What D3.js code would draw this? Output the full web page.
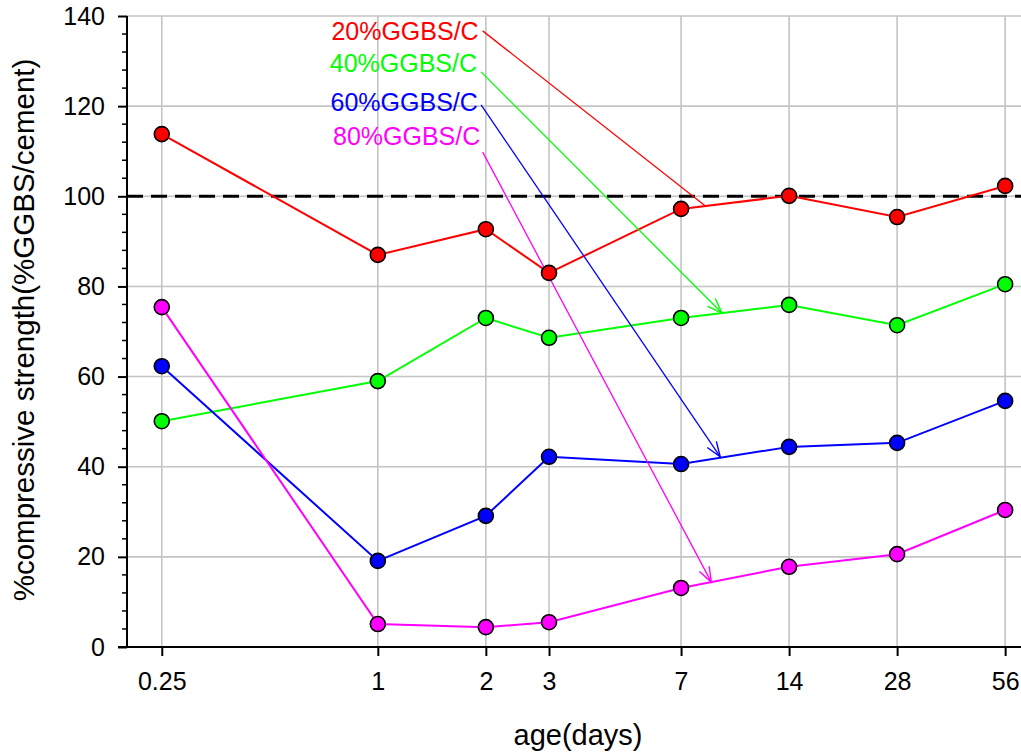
<!DOCTYPE html>
<html>
<head>
<meta charset="utf-8">
<script src="https://cdn.jsdelivr.net/npm/d3@7"></script>
<style>
  body { margin: 0; background: #fff; }
  svg { display: block; font-family: "Liberation Sans", Arial, sans-serif; }
</style>
</head>
<body>
<script>
// ages (days) and percentages
var ages = [0.25, 1, 2, 3, 7, 14, 28, 56];
var ggbs20 = [113.8, 87.0, 92.7, 83.0, 97.2, 100.1, 95.4, 102.3];
var ggbs40 = [50.1, 59.0, 73.0, 68.6, 73.0, 75.9, 71.4, 80.5];
var ggbs60 = [62.3, 19.1, 29.1, 42.2, 40.6, 44.4, 45.3, 54.6];
var ggbs80 = [75.4, 5.1, 4.4, 5.5, 13.1, 17.8, 20.6, 30.4];
var seriesNames = ["20%GGBS/C", "40%GGBS/C", "60%GGBS/C", "80%GGBS/C"];
var seriesColors = ["#ff0000", "#00ff00", "#0000ff", "#ff00ff"];
var yTicks = [0, 20, 40, 60, 80, 100, 120, 140];
var xTickLabels = ["0.25", "1", "2", "3", "7", "14", "28", "56"];

// annotation text anchor + arrow (in data units: days, %)
var labelPos = [[1.91, 134.7], [1.89, 127.6], [1.90, 118.9], [1.93, 111.4]];
var arrowFrom = [[1.96, 136.7], [1.94, 127.6], [1.94, 120.3], [1.96, 109.8]];
var arrowTo = [[8.2, 97.8], [9.1, 74.1], [9.0, 42.2], [8.5, 14.4]];
var hasHead = [false, true, true, true];

var W = 1021, H = 752;
var svg = d3.select("body").append("svg").attr("width", W).attr("height", H);

var x = d3.scaleLog().base(2).domain([0.2, 62]).range([127, 1021]);
var y = d3.scaleLinear().domain([0, 140]).range([647, 16]);

// grid
var grid = svg.append("g").attr("stroke", "#c4c4c4").attr("stroke-width", 1.6);
grid.selectAll("line.v").data(ages).enter().append("line")
    .attr("x1", function (d) { return x(d); }).attr("x2", function (d) { return x(d); })
    .attr("y1", y(0)).attr("y2", y(140));
grid.selectAll("line.h").data(yTicks.slice(1)).enter().append("line")
    .attr("x1", x(0.2)).attr("x2", W)
    .attr("y1", function (d) { return y(d); }).attr("y2", function (d) { return y(d); });

// reference line at 100%
svg.append("line").attr("x1", x(0.2)).attr("x2", W)
    .attr("y1", y(100)).attr("y2", y(100))
    .attr("stroke", "#000").attr("stroke-width", 3).attr("stroke-dasharray", "16,8");

// axes
var yAxis = d3.axisLeft(y).tickValues(yTicks).tickSize(9).tickPadding(13);
var gy = svg.append("g").attr("transform", "translate(" + x(0.2) + ",0)").call(yAxis);
var minor = d3.range(0, 141, 4).filter(function (d) { return d % 20 !== 0; });
gy.selectAll("line.minor").data(minor).enter().append("line").attr("class", "minor")
    .attr("x1", -5).attr("x2", 0)
    .attr("y1", function (d) { return y(d); }).attr("y2", function (d) { return y(d); })
    .attr("stroke", "#000").attr("stroke-width", 1.5);

var xAxis = d3.axisBottom(x).tickValues(ages).tickSize(9).tickPadding(16)
    .tickFormat(function (d, i) { return xTickLabels[i]; });
var gx = svg.append("g").attr("transform", "translate(0," + y(0) + ")").call(xAxis);

[gx, gy].forEach(function (g) {
    g.select(".domain").remove();
    g.selectAll(".tick line").attr("stroke", "#000").attr("stroke-width", 2);
    g.selectAll("text").attr("font-size", 25).attr("fill", "#000")
        .attr("font-family", "'Liberation Sans', Arial, sans-serif");
});
svg.append("line").attr("x1", x(0.2)).attr("x2", x(0.2)).attr("y1", y(0) + 1).attr("y2", y(140))
    .attr("stroke", "#000").attr("stroke-width", 2);
svg.append("line").attr("x1", x(0.2) - 9).attr("x2", W).attr("y1", y(0)).attr("y2", y(0))
    .attr("stroke", "#000").attr("stroke-width", 2);

// axis titles
svg.append("text").attr("x", 578).attr("y", 745).attr("text-anchor", "middle")
    .attr("font-size", 29).text("age(days)");
svg.append("text").attr("transform", "translate(34,330) rotate(-90)").attr("text-anchor", "middle")
    .attr("font-size", 29.5).text("%compressive strength(%GGBS/cement)");

// series
var allSeries = [ggbs20, ggbs40, ggbs60, ggbs80];
var line = d3.line().x(function (d, i) { return x(ages[i]); }).y(function (d) { return y(d); });

allSeries.forEach(function (vals, k) {
    svg.append("path").datum(vals).attr("d", line)
        .attr("fill", "none").attr("stroke", seriesColors[k]).attr("stroke-width", 2);
});

// annotations
var defs = svg.append("defs");
seriesColors.forEach(function (c, k) {
    defs.append("marker").attr("id", "head" + k)
        .attr("markerUnits", "userSpaceOnUse").attr("viewBox", "-16 -8 18 16")
        .attr("refX", 0).attr("refY", 0).attr("markerWidth", 18).attr("markerHeight", 16)
        .attr("orient", "auto")
        .append("path").attr("d", "M-15,-5.5L0,0L-15,5.5")
        .attr("fill", "none").attr("stroke", c).attr("stroke-width", 1.4);
});
seriesNames.forEach(function (name, k) {
    svg.append("text").attr("x", x(labelPos[k][0])).attr("y", y(labelPos[k][1]))
        .attr("text-anchor", "end").attr("font-size", 25).attr("fill", seriesColors[k]).text(name);
    var a = svg.append("line")
        .attr("x1", x(arrowFrom[k][0])).attr("y1", y(arrowFrom[k][1]))
        .attr("x2", x(arrowTo[k][0])).attr("y2", y(arrowTo[k][1]))
        .attr("stroke", seriesColors[k]).attr("stroke-width", 1.3);
    if (hasHead[k]) a.attr("marker-end", "url(#head" + k + ")");
});

// markers
allSeries.forEach(function (vals, k) {
    svg.append("g").selectAll("circle").data(vals).enter().append("circle")
        .attr("cx", function (d, i) { return x(ages[i]); })
        .attr("cy", function (d) { return y(d); })
        .attr("r", 7.5).attr("fill", seriesColors[k])
        .attr("stroke", "#000").attr("stroke-width", 1.6);
});
</script>
</body>
</html>
